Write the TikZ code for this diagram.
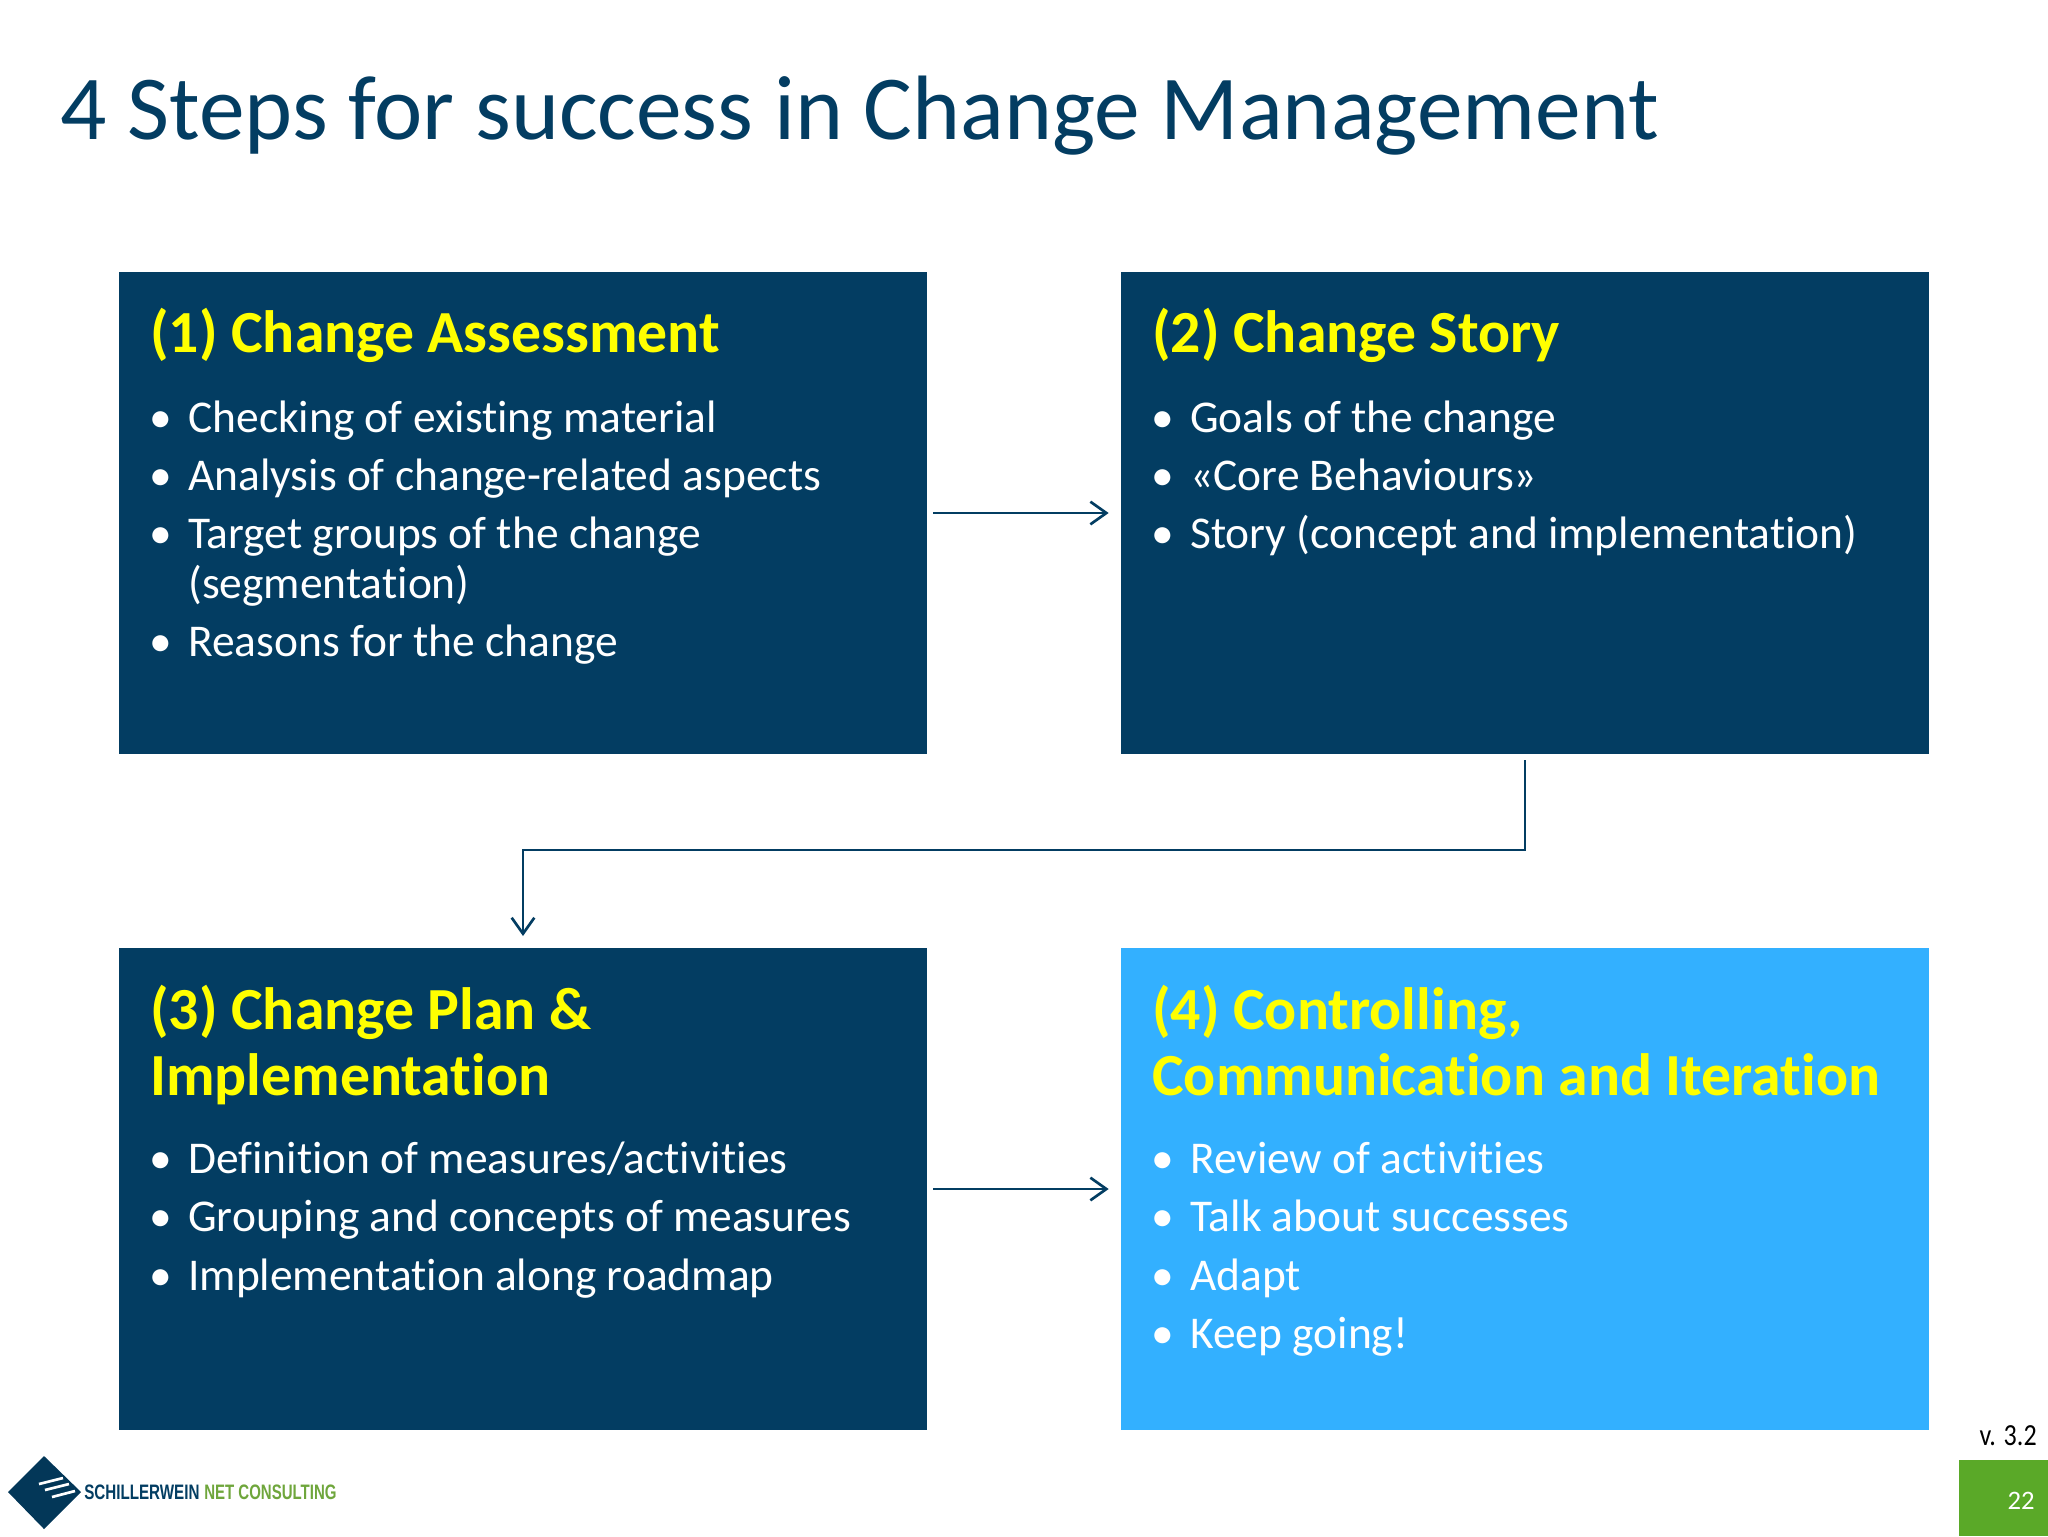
\documentclass[tikz,border=0pt]{standalone}
\usepackage{fontspec}
\setmainfont{Carlito}[Ligatures=NoCommon]
\newfontfamily\logofont{Liberation Sans}
\usetikzlibrary{arrows.meta}
\definecolor{navybox}{HTML}{033D62}
\definecolor{skybox}{HTML}{33B0FF}
\definecolor{headyellow}{HTML}{FFFF00}
\definecolor{pagegreen}{HTML}{5AA928}
\definecolor{logogreen}{HTML}{6FA63C}
\tikzset{
  stepbox/.style={fill=navybox,draw=none,inner sep=0pt,outer sep=0pt,minimum width=606.5pt,minimum height=361.5pt},
  stephead/.style={anchor=base west,inner sep=0pt,text=headyellow,font=\fontsize{44.8}{52}\selectfont\bfseries},
  stepitem/.style={anchor=base west,inner sep=0pt,text=white,font=\fontsize{34.1}{40}\selectfont},
  stepdot/.style={anchor=base,inner sep=0pt,text=white,font=\fontsize{34.1}{40}\selectfont},
  flowline/.style={draw=navybox,line width=2pt,-{Straight Barb[length=12pt,width=17pt,line width=2pt]}}
}
\begin{document}
\begin{tikzpicture}[x=0.75pt,y=0.75pt,yscale=-1,xscale=1]
  \useasboundingbox (0,0) rectangle (2048,1536);

  % Text Node
  \node (title) [anchor=base west,inner sep=0pt,text=navybox,font=\fontsize{68.6}{80}\selectfont] at (60,139) {4 Steps for success in Change Management};

  %Shape: Rectangle
  \node (assess) [stepbox] at (523,513) {};
  \node (story) [stepbox] at (1525,513) {};
  \node (plan) [stepbox] at (523,1189) {};
  \node (control) [stepbox,fill=skybox] at (1525,1189) {};

  %Straight Lines
  \draw [flowline,shorten <=4.5pt,shorten >=9pt] (assess) -- (story);
  \draw [flowline,shorten <=4.5pt,shorten >=9pt] (plan) -- (control);
  \coordinate (bend) at (1525,850);
  \draw [flowline,shorten <=4.5pt,shorten >=9pt] (story.south) -- (bend) -| (plan.north);

  % Text Node
  \node (assesshead) [stephead] at (150,352) {(1) Change Assessment};
  \node (assessdota) [stepdot] at (161,432) {•};
  \node (assessa) [stepitem] at (188,432) {Checking of existing material};
  \node (assessdotb) [stepdot] at (161,490) {•};
  \node (assessb) [stepitem] at (188,490) {Analysis of change-related aspects};
  \node (assessdotc) [stepdot] at (161,548) {•};
  \node (assessc) [stepitem] at (188,548) {Target groups of the change};
  \node (assesscc) [stepitem] at (188,598) {(segmentation)};
  \node (assessdotd) [stepdot] at (161,656) {•};
  \node (assessd) [stepitem] at (188,656) {Reasons for the change};

  % Text Node
  \node (storyhead) [stephead] at (1152,352) {(2) Change Story};
  \node (storydota) [stepdot] at (1163,432) {•};
  \node (storya) [stepitem] at (1190,432) {Goals of the change};
  \node (storydotb) [stepdot] at (1163,490) {•};
  \node (storyb) [stepitem] at (1190,490) {«Core Behaviours»};
  \node (storydotc) [stepdot] at (1163,548) {•};
  \node (storyc) [stepitem] at (1190,548) {Story (concept and implementation)};

  % Text Node
  \node (planhead) [stephead] at (150,1029) {(3) Change Plan \&};
  \node (planheadb) [stephead] at (150,1095) {Implementation};
  \node (plandota) [stepdot] at (161,1173) {•};
  \node (plana) [stepitem] at (188,1173) {Definition of measures/activities};
  \node (plandotb) [stepdot] at (161,1231) {•};
  \node (planb) [stepitem] at (188,1231) {Grouping and concepts of measures};
  \node (plandotc) [stepdot] at (161,1290) {•};
  \node (planc) [stepitem] at (188,1290) {Implementation along roadmap};

  % Text Node
  \node (controlhead) [stephead] at (1152,1029) {(4) Controlling,};
  \node (controlheadb) [stephead] at (1152,1095) {Communication and Iteration};
  \node (controldota) [stepdot] at (1163,1173) {•};
  \node (controla) [stepitem] at (1190,1173) {Review of activities};
  \node (controldotb) [stepdot] at (1163,1231) {•};
  \node (controlb) [stepitem] at (1190,1231) {Talk about successes};
  \node (controldotc) [stepdot] at (1163,1290) {•};
  \node (controlc) [stepitem] at (1190,1290) {Adapt};
  \node (controldotd) [stepdot] at (1163,1348) {•};
  \node (controld) [stepitem] at (1190,1348) {Keep going!};

  %Shape: Rectangle
  \fill [pagegreen] (1959,1460) rectangle (2048,1536);
  % Text Node
  \node (version) [anchor=base east,inner sep=0pt,font=\fontsize{23}{28}\selectfont] at (2037,1445) {\scalebox{0.85}[1]{v. 3.2}};
  \node (pagenum) [anchor=center,inner sep=0pt,text=white,font=\fontsize{20}{24}\selectfont] at (2021,1501) {22};

  %Shape: Diamond
  \fill [navybox!90!black] (8,1492) -- (44,1456) -- (81,1492) -- (44,1529) -- cycle;
  %Straight Lines
  \draw [white,line width=2pt] (39,1484) -- (63,1478);
  \draw [white,line width=2pt] (45,1490) -- (69,1484);
  \draw [white,line width=2pt] (52,1497) -- (75,1491);

  % Text Node
  \node (logoname) [anchor=west,inner sep=0pt,text=navybox,font=\logofont\fontsize{15.7}{18}\selectfont\bfseries] at (84,1492) {\scalebox{0.725}[1]{SCHILLERWEIN}};
  \node (logonet) [anchor=west,inner sep=0pt,text=logogreen,font=\logofont\fontsize{15.7}{18}\selectfont\bfseries] at (204,1492) {\scalebox{0.717}[1]{NET CONSULTING}};
\end{tikzpicture}
\end{document}
